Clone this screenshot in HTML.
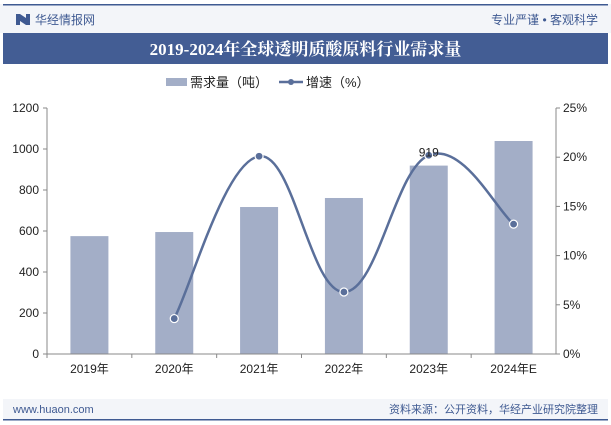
<!DOCTYPE html>
<html><head><meta charset="utf-8"><style>
body{margin:0;width:611px;height:425px;overflow:hidden;background:#fff;font-family:"Liberation Sans","Noto Sans CJK SC",sans-serif;}
svg{display:block}
</style></head><body>
<svg width="611" height="425" id="c">
<rect x="0" y="4" width="611" height="29" fill="#f3f5f9"/>
<rect x="3" y="4" width="605" height="1.5" fill="#3f5a92"/>
<g><rect x="16" y="14" width="4" height="11" fill="#3f5a92"/><polygon points="20,14 26,18 26,25 20,21" fill="#3f5a92"/><rect x="26" y="14" width="4" height="11" fill="#3f5a92"/></g>
<text x="35" y="24" font-size="12" fill="#3f5a92">华经情报网</text>
<text x="598" y="24" font-size="12" fill="#3f5a92" text-anchor="end">专业严谨 • 客观科学</text>
<rect x="3" y="33" width="605" height="31" fill="#435d94"/>
<text x="305.5" y="55" font-size="17" font-weight="bold" fill="#fff" text-anchor="middle" font-family="Liberation Serif,Noto Serif CJK SC,serif">2019-2024年全球透明质酸原料行业需求量</text>
<g>
<rect x="166" y="78" width="21" height="8" fill="#a3aec7"/>
<text x="190" y="87" font-size="13" fill="#222">需求量（吨）</text>
<line x1="279" y1="82" x2="303" y2="82" stroke="#5a6f9a" stroke-width="2.5"/>
<circle cx="291" cy="82" r="3" fill="#5a6f9a"/>
<text x="306" y="87" font-size="13" fill="#222">增速（%）</text>
</g>
<g id="plot"></g>
<rect x="3" y="399" width="605" height="20" fill="#f3f5f9"/>
<rect x="3" y="419" width="605" height="1.5" fill="#3f5a92"/>
<text x="13" y="413" font-size="11" fill="#3f5a92">www.huaon.com</text>
<text x="598" y="413" font-size="11" fill="#3f5a92" text-anchor="end">资料来源：公开资料，华经产业研究院整理</text>
</svg>
<script>
const categories=["2019年","2020年","2021年","2022年","2023年","2024年E"];
const demand=[575,595,717,761,919,1039];
const growth=[null,3.6,20.1,6.3,20.2,13.2];
const leftTicks=[0,200,400,600,800,1000,1200];
const rightTicks=[0,5,10,15,20,25];
const NS="http://www.w3.org/2000/svg";
const g=document.getElementById('plot');
const X0=47,X1=556,Y0=354,Y1=108;
const bw=(X1-X0)/categories.length;
const xc=i=>X0+bw*(i+0.5);
const yl=v=>Y0-(v/1200)*(Y0-Y1);
const yr=v=>Y0-(v/25)*(Y0-Y1);
function mk(t,a,txt){const e=document.createElementNS(NS,t);for(const k in a)e.setAttribute(k,a[k]);if(txt!=null)e.textContent=txt;g.appendChild(e);return e;}
demand.forEach((v,i)=>{const r=mk('rect',{x:xc(i)-19,y:yl(v),width:38,height:Y0-yl(v),fill:'#a3aec7'});

});
let e=mk('line',{x1:X0,y1:Y0,x2:X1,y2:Y0,stroke:'#888'});


e=mk('line',{x1:X0,y1:Y1,x2:X0,y2:Y0,stroke:'#888'});


e=mk('line',{x1:X1,y1:Y1,x2:X1,y2:Y0,stroke:'#888'});


leftTicks.forEach(v=>{mk('line',{x1:X0-4,y1:yl(v),x2:X0,y2:yl(v),stroke:'#888'});
const t=mk('text',{x:X0-8,y:yl(v)+4,'font-size':12,'text-anchor':'end',fill:'#222'},v);

});
rightTicks.forEach(v=>{mk('line',{x1:X1,y1:yr(v),x2:X1+4,y2:yr(v),stroke:'#888'});
const t=mk('text',{x:X1+7,y:yr(v)+4,'font-size':12,fill:'#222'},v+'%');

});
categories.forEach((c,i)=>{mk('line',{x1:X0+bw*i,y1:Y0,x2:X0+bw*i,y2:Y0+4,stroke:'#888'});
const t=mk('text',{x:xc(i),y:Y0+19,'font-size':12,'text-anchor':'middle',fill:'#222'},c);

});
const pts=[];growth.forEach((v,i)=>{if(v!=null)pts.push([xc(i),yr(v)]);});
let d='M'+pts[0][0]+','+pts[0][1];
for(let i=0;i<pts.length-1;i++){const p0=pts[i-1]||pts[i],p1=pts[i],p2=pts[i+1],p3=pts[i+2]||p2;const k=0.2;
d+=` C${p1[0]+(p2[0]-p0[0])*k},${p1[1]+(p2[1]-p0[1])*k} ${p2[0]-(p3[0]-p1[0])*k},${p2[1]-(p3[1]-p1[1])*k} ${p2[0]},${p2[1]}`;}
e=mk('path',{d:d,fill:'none',stroke:'#5a6f9a','stroke-width':2.5});


pts.forEach(p=>{const c=mk('circle',{cx:p[0],cy:p[1],r:4,fill:'#5a6f9a',stroke:'#fff','stroke-width':1.2});

});
e=mk('text',{x:xc(4),y:yl(demand[4])-9,'font-size':12,'text-anchor':'middle',fill:'#222'},demand[4]);


</script>
</body></html>
